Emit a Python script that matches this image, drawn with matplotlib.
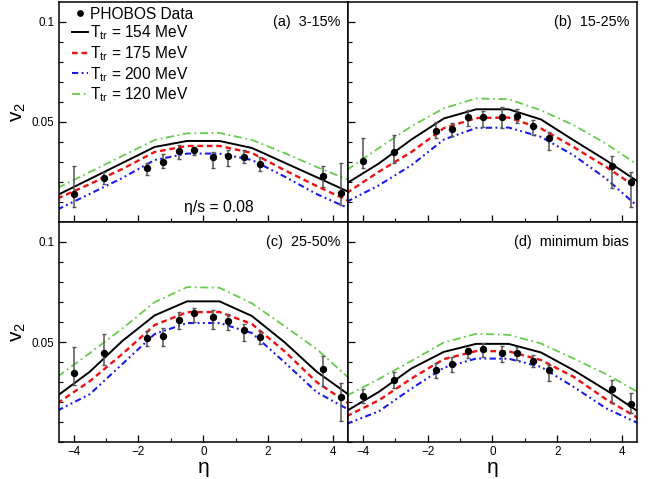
import matplotlib
matplotlib.use('Agg')
import matplotlib.pyplot as plt
import numpy as np
from matplotlib.ticker import FixedLocator, MultipleLocator, FixedFormatter

plt.rcParams['font.family'] = ['Liberation Sans', 'DejaVu Sans']
plt.rcParams['mathtext.fontset'] = 'custom'
plt.rcParams['mathtext.rm'] = 'Liberation Sans'
plt.rcParams['mathtext.it'] = 'Liberation Sans:italic'

# ---------------- data ----------------
eta_model = [-4.5, -3.5, -2.5, -1.5, -0.5, 0.5, 1.5, 2.5, 3.5, 4.5]
eta_data = [-4.0, -3.05, -1.75, -1.25, -0.75, -0.3, 0.3, 0.76, 1.25, 1.76, 3.68, 4.26]

# model curves: T_tr = 154, 175, 200, 120 MeV
a_154 = [0.0135, 0.0215, 0.0295, 0.0375, 0.0405, 0.0405, 0.0370, 0.0297, 0.0224, 0.0150]
a_175 = [0.0118, 0.0190, 0.0265, 0.0350, 0.0380, 0.0380, 0.0345, 0.0260, 0.0180, 0.0105]
a_200 = [0.0063, 0.0141, 0.0220, 0.0310, 0.0342, 0.0342, 0.0310, 0.0228, 0.0140, 0.0068]
a_120 = [0.0170, 0.0250, 0.0330, 0.0410, 0.0443, 0.0445, 0.0410, 0.0345, 0.0275, 0.0210]

b_154 = [0.0193, 0.0293, 0.0412, 0.0517, 0.0563, 0.0563, 0.0512, 0.0409, 0.0309, 0.0201]
b_175 = [0.0145, 0.0252, 0.0350, 0.0469, 0.0519, 0.0522, 0.0467, 0.0375, 0.0276, 0.0168]
b_200 = [0.0101, 0.0184, 0.0284, 0.0412, 0.0470, 0.0472, 0.0425, 0.0334, 0.0218, 0.0076]
b_120 = [0.0259, 0.0370, 0.0478, 0.0568, 0.0617, 0.0613, 0.0558, 0.0484, 0.0392, 0.0284]

c_154 = [0.0232, 0.0352, 0.0505, 0.0633, 0.0703, 0.0703, 0.0630, 0.0500, 0.0352, 0.0236]
c_175 = [0.0195, 0.0305, 0.0440, 0.0585, 0.0649, 0.0650, 0.0590, 0.0455, 0.0300, 0.0191]
c_200 = [0.0158, 0.0240, 0.0390, 0.0540, 0.0595, 0.0595, 0.0545, 0.0400, 0.0250, 0.0161]
c_120 = [0.0327, 0.0445, 0.0567, 0.0699, 0.0774, 0.0771, 0.0693, 0.0580, 0.0465, 0.0319]

d_154 = [0.0156, 0.0252, 0.0368, 0.0451, 0.0491, 0.0491, 0.0448, 0.0360, 0.0261, 0.0153]
d_175 = [0.0130, 0.0210, 0.0318, 0.0415, 0.0455, 0.0454, 0.0410, 0.0327, 0.0215, 0.0120]
d_200 = [0.0092, 0.0155, 0.0268, 0.0372, 0.0418, 0.0417, 0.0376, 0.0277, 0.0170, 0.0095]
d_120 = [0.0232, 0.0316, 0.0406, 0.0498, 0.0541, 0.0536, 0.0493, 0.0418, 0.0341, 0.0249]

# PHOBOS data: value, upper end, lower end of the error bar
a_v2 = [0.0138, 0.0221, 0.0268, 0.0301, 0.0354, 0.0359, 0.0323, 0.0332, 0.0327, 0.0289, 0.0229, 0.0146]
a_hi = [0.0281, 0.0251, 0.0293, 0.0338, 0.0387, 0.0375, 0.0350, 0.0359, 0.0362, 0.0326, 0.0281, 0.0293]
a_lo = [0.0076, 0.0188, 0.0234, 0.0268, 0.0317, 0.0334, 0.0271, 0.0281, 0.0296, 0.0256, 0.0176, 0.0085]

b_v2 = [0.0304, 0.0350, 0.0455, 0.0467, 0.0522, 0.0522, 0.0522, 0.0530, 0.0479, 0.0420, 0.0281, 0.0198]
b_hi = [0.0420, 0.0434, 0.0500, 0.0497, 0.0558, 0.0553, 0.0572, 0.0562, 0.0508, 0.0450, 0.0330, 0.0251]
b_lo = [0.0268, 0.0296, 0.0420, 0.0429, 0.0479, 0.0475, 0.0470, 0.0497, 0.0434, 0.0359, 0.0168, 0.0076]

c_v2 = [0.0344, 0.0443, 0.0520, 0.0532, 0.0608, 0.0645, 0.0625, 0.0603, 0.0559, 0.0525, 0.0368, 0.0227]
c_hi = [0.0476, 0.0542, 0.0554, 0.0572, 0.0649, 0.0671, 0.0658, 0.0642, 0.0592, 0.0555, 0.0431, 0.0294]
c_lo = [0.0286, 0.0388, 0.0479, 0.0479, 0.0567, 0.0600, 0.0564, 0.0562, 0.0505, 0.0488, 0.0282, 0.0105]

d_v2 = [0.0232, 0.0310, 0.0363, 0.0390, 0.0456, 0.0463, 0.0446, 0.0446, 0.0406, 0.0360, 0.0264, 0.0191]
d_hi = [0.0266, 0.0349, 0.0396, 0.0426, 0.0471, 0.0496, 0.0481, 0.0476, 0.0434, 0.0385, 0.0310, 0.0247]
d_lo = [0.0195, 0.0269, 0.0319, 0.0349, 0.0421, 0.0423, 0.0401, 0.0413, 0.0376, 0.0305, 0.0195, 0.0145]

panel_labels = ['(a)  3-15%', '(b)  15-25%', '(c)  25-50%', '(d)  minimum bias']
temp_labels = ['154', '175', '200', '120']
y_major = [0.05, 0.1]
y_major_labels = ['0.05', '0.1']
x_major = [-4, -2, 0, 2, 4]

panels = [
    (a_154, a_175, a_200, a_120, a_v2, a_hi, a_lo),
    (b_154, b_175, b_200, b_120, b_v2, b_hi, b_lo),
    (c_154, c_175, c_200, c_120, c_v2, c_hi, c_lo),
    (d_154, d_175, d_200, d_120, d_v2, d_hi, d_lo),
]

# ---------------- styles ----------------
styles = [
    dict(color='black', lw=1.4, ls='-'),
    dict(color='#ee1111', lw=1.7, ls=(0, (2.4, 1.6))),
    dict(color='#1a1aee', lw=1.5, ls=(0, (3.0, 1.6, 0.9, 1.6, 0.9, 1.6))),
    dict(color='#66cc4d', lw=1.3, ls=(0, (4.5, 2.0, 1.0, 2.0))),
]

fig = plt.figure(figsize=(6.53, 4.79), dpi=100)
gs = fig.add_gridspec(2, 2, left=0.0899, right=0.9755, bottom=0.0766, top=0.9958,
                      wspace=0, hspace=0)
axes = [fig.add_subplot(gs[i // 2, i % 2]) for i in range(4)]

for i, ax in enumerate(axes):
    m154, m175, m200, m120, v2, hi, lo = panels[i]
    v2a = np.array(v2)
    err = [v2a - np.array(lo), np.array(hi) - v2a]
    ax.errorbar(eta_data, v2, yerr=err, fmt='none', ecolor='#555555',
                elinewidth=1.1, capsize=1.6, capthick=1.0, zorder=3)
    pts, = ax.plot(eta_data, v2, 'o', color='black', ms=4.3, zorder=4,
                   label='PHOBOS Data')
    lines = []
    for m, st, t in zip([m154, m175, m200, m120], styles, temp_labels):
        ln, = ax.plot(eta_model, m, zorder=2, label=r'T$_{\rm tr}$ = ' + t + ' MeV', **st)
        lines.append(ln)

    ax.set_xlim(-4.46, 4.46)
    ax.set_ylim(0.0, 0.1098)
    ax.xaxis.set_major_locator(FixedLocator(x_major))
    ax.xaxis.set_minor_locator(MultipleLocator(1))
    ax.yaxis.set_major_locator(FixedLocator(y_major))
    ax.yaxis.set_minor_locator(MultipleLocator(0.01))
    ax.tick_params(which='both', direction='in', top=False, right=False,
                   labelsize=8.4, colors='black', pad=3)
    ax.tick_params(which='major', length=5, width=0.9)
    ax.tick_params(which='minor', length=2.8, width=0.8)
    for sp in ax.spines.values():
        sp.set_linewidth(1.1)

    if i % 2 == 0:
        ax.yaxis.set_major_formatter(FixedFormatter(y_major_labels))
        ax.set_ylabel(r'v$_2$', fontsize=15, labelpad=3)
    else:
        ax.set_yticklabels([])
    if i < 2:
        ax.set_xticklabels([])
    else:
        ax.set_xlabel('η', fontsize=15, labelpad=0)

    ax.text(0.973, 0.91, panel_labels[i], transform=ax.transAxes, ha='right',
            va='center', fontsize=10.4)

    if i == 0:
        ax.legend(handles=[pts] + lines, loc='upper left', bbox_to_anchor=(0.047, 0.978),
                  frameon=False, fontsize=11.2, handlelength=1.0, handletextpad=0.15,
                  labelspacing=0.12, borderpad=0, borderaxespad=0, markerscale=0.9)
        ax.text(0.555, 0.068, 'η/s = 0.08', transform=ax.transAxes, ha='center',
                va='center', fontsize=11.3)

fig.savefig('out.png', dpi=100)
